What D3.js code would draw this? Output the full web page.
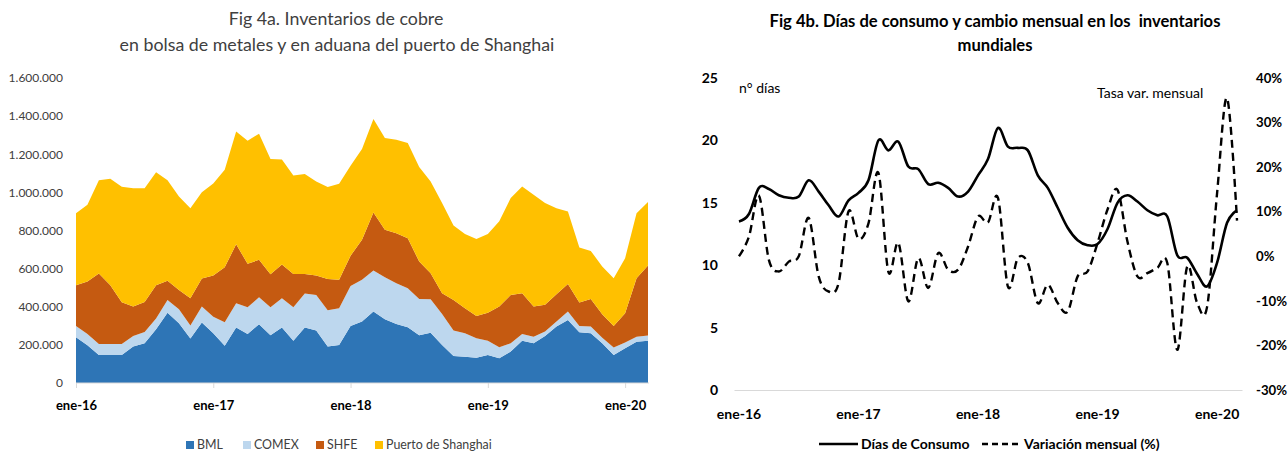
<!DOCTYPE html>
<html>
<head>
<meta charset="utf-8">
<script src="https://cdn.jsdelivr.net/npm/d3@7"></script>
<style>
body { margin: 0; background: #fff; }
svg { font-family: Lato, "Open Sans", sans-serif; display: block; }
</style>
</head>
<body>
<svg width="1288" height="455"></svg>
<script>
// Fig 4a: inventarios (miles de toneladas), ene-16 .. mar-20
var bml = [240,198,147,147,147,191,208,282,369,313,233,317,261,196,291,257,308,250,291,222,291,275,192,200,299,322,375,334,310,292,250,264,200,142,138,133,147,130,165,221,208,247,296,331,266,261,208,147,182,217,221];
var comex = [59,59,58,58,58,56,60,56,67,74,68,84,87,123,127,140,142,147,154,175,178,187,189,192,210,219,215,221,213,205,191,175,162,133,123,102,75,57,43,36,35,23,26,44,33,35,30,39,30,26,28];
var shfe = [214,275,369,308,219,154,157,175,101,101,144,147,216,288,310,228,196,174,176,175,103,102,165,149,158,210,305,249,263,263,196,137,109,161,131,117,147,214,254,214,158,140,144,145,123,145,123,113,154,307,367];
var puerto = [378,403,489,558,605,620,596,592,526,491,472,453,483,512,592,646,662,604,552,517,524,493,482,504,473,476,490,481,490,499,496,481,473,390,390,404,412,448,508,560,586,534,451,380,289,252,250,251,289,341,333];
var seriesNames = ["BML", "COMEX", "SHFE", "Puerto de Shanghai"];
var leftTicks = [0,200000,400000,600000,800000,1000000,1200000,1400000,1600000];

// Fig 4b
var dias = [13.5,14.1,16.2,16.1,15.6,15.4,15.5,16.8,15.9,14.8,13.9,15.2,15.8,16.8,20.0,19.2,19.9,17.9,17.7,16.5,16.6,16.2,15.5,15.9,17.2,18.5,21.0,19.5,19.4,19.2,17.2,16.2,14.6,13.0,12.0,11.6,11.7,12.9,15.0,15.6,15.1,14.4,14.0,13.9,10.8,10.6,9.3,8.3,10.2,13.4,14.4];
var variacion = [0,4.4,13.6,-0.8,-3.4,-1.2,0,8.6,-4.5,-7.9,-6.0,10.1,3.9,7.4,18.7,-3.5,3.0,-10.1,-0.4,-7.1,0.7,-3.0,-3.0,2.2,8.9,7.6,13.1,-6.8,-0.4,-1.5,-10.5,-6.4,-10.5,-12.4,-4.5,-3.4,3.0,10.5,14.9,3.3,-4.5,-3.8,-2.6,-1.5,-21.0,-2.3,-10.5,-11.3,14.2,35.5,8.0];
var diasTicks = [0,5,10,15,20,25];
var pctTicks = [-30,-20,-10,0,10,20,30,40];

var yearLabels = ["ene-16","ene-17","ene-18","ene-19","ene-20"];
var months = d3.timeMonth.range(new Date(2016,0,1), new Date(2020,3,1));
var januaries = months.filter(d => d.getMonth() == 0);

var colors = ["#2e75b6", "#bdd7ee", "#c55a11", "#ffc000"];
var svg = d3.select("svg");

var es = d3.formatLocale({decimal: ",", thousands: ".", grouping: [3], currency: ["", ""], minus: "-"});

// ---------------- left chart ----------------
var rows = months.map((m, i) => ({
	date: m,
	BML: bml[i]*1000,
	COMEX: comex[i]*1000,
	SHFE: shfe[i]*1000,
	"Puerto de Shanghai": puerto[i]*1000
}));
var stacked = d3.stack().keys(seriesNames)(rows);

var x1 = d3.scalePoint().domain(months).range([76, 648]);
var y1 = d3.scaleLinear().domain([0, 1600000]).range([383, 78]);

var gl = svg.append("g");

gl.selectAll("path.area")
	.data(stacked)
	.enter()
	.append("path")
	.classed("area", true)
	.attr("fill", (d, i) => colors[i])
	.attr("d", d3.area()
		.x(d => x1(d.data.date))
		.y0(d => y1(d[0]))
		.y1(d => y1(d[1])));

var yAxL = gl.append("g")
	.attr("transform", "translate(76,0)")
	.call(d3.axisLeft(y1).tickValues(leftTicks).tickSize(0).tickPadding(13).tickFormat(es.format(",")));
yAxL.select(".domain").remove();
yAxL.selectAll("text").attr("font-size", 12).attr("fill", "#404040").attr("font-family", "Lato");

var xAxL = gl.append("g")
	.attr("transform", "translate(0,383)")
	.call(d3.axisBottom(x1).tickValues(januaries).tickSize(5).tickPadding(13)
		.tickFormat((d, i) => yearLabels[i]));
xAxL.select(".domain").attr("stroke", "#d9d9d9").attr("d", "M76,0H649");
xAxL.selectAll("line").attr("stroke", "#d9d9d9");
xAxL.selectAll("text").attr("font-size", 13).attr("font-weight", "bold").attr("fill", "#000").attr("font-family", "Lato");

gl.append("text").attr("x", 336).attr("y", 25).attr("text-anchor", "middle")
	.attr("font-size", 17.8).attr("fill", "#404040").text("Fig 4a. Inventarios de cobre");
gl.append("text").attr("x", 337).attr("y", 51).attr("text-anchor", "middle")
	.attr("font-size", 17.8).attr("fill", "#404040").text("en bolsa de metales y en aduana del puerto de Shanghai");

var legX = [186, 243, 316, 375];
var leg = gl.selectAll("g.leg").data(seriesNames).enter().append("g").classed("leg", true)
	.attr("transform", (d, i) => "translate(" + legX[i] + ",445)");
leg.append("rect").attr("x", 0).attr("y", -4).attr("width", 8).attr("height", 8).attr("fill", (d, i) => colors[i]);
leg.append("text").attr("x", 11).attr("y", 0).attr("dy", "0.35em").attr("font-size", 12.4).attr("fill", "#404040").text(d => d);

// ---------------- right chart ----------------
var x2 = d3.scaleBand().domain(months).range([734, 1242]);
var yD = d3.scaleLinear().domain([0, 25]).range([390, 78]);
var yP = d3.scaleLinear().domain([-30, 40]).range([390, 78]);

var gr = svg.append("g");

var yAxD = gr.append("g").attr("transform", "translate(734,0)")
	.call(d3.axisLeft(yD).tickValues(diasTicks).tickSize(0).tickPadding(16));
yAxD.select(".domain").remove();

var yAxP = gr.append("g").attr("transform", "translate(1242,0)")
	.call(d3.axisRight(yP).tickValues(pctTicks).tickSize(0).tickPadding(14).tickFormat(d => d + "%"));
yAxP.select(".domain").remove();

var xAxR = gr.append("g").attr("transform", "translate(0,390)")
	.call(d3.axisBottom(x2).tickValues(januaries).tickSize(0).tickPadding(19)
		.tickFormat((d, i) => yearLabels[i]));
xAxR.select(".domain").attr("stroke", "#d9d9d9").attr("stroke-width", 1.2);

gr.selectAll(".tick text").attr("font-size", 14).attr("font-weight", "bold").attr("fill", "#000").attr("font-family", "Lato");
yAxP.selectAll("text").attr("font-size", 13.2);

var cx = (d, i) => x2(months[i]) + x2.bandwidth()/2;

gr.append("path")
	.datum(dias)
	.attr("fill", "none").attr("stroke", "#000").attr("stroke-width", 2.6)
	.attr("d", d3.line().x(cx).y(d => yD(d)).curve(d3.curveCatmullRom.alpha(0)));

gr.append("path")
	.datum(variacion)
	.attr("fill", "none").attr("stroke", "#000").attr("stroke-width", 2.4)
	.attr("stroke-dasharray", "8,5")
	.attr("d", d3.line().x(cx).y(d => yP(d)).curve(d3.curveCatmullRom.alpha(0)));

gr.append("text").attr("x", 739).attr("y", 93).attr("font-size", 14).text("n° días");
gr.append("text").attr("x", 1097).attr("y", 98).attr("font-size", 14).text("Tasa var. mensual");

gr.append("text").attr("x", 995).attr("y", 27).attr("text-anchor", "middle")
	.attr("font-size", 16.6).attr("font-weight", "bold")
	.text("Fig 4b. Días de consumo y cambio mensual en los\u00A0 inventarios");
gr.append("text").attr("x", 995).attr("y", 51).attr("text-anchor", "middle")
	.attr("font-size", 16.6).attr("font-weight", "bold").text("mundiales");

// legend right
gr.append("line").attr("x1", 819).attr("x2", 858).attr("y1", 444).attr("y2", 444)
	.attr("stroke", "#000").attr("stroke-width", 2.6);
gr.append("text").attr("x", 861).attr("y", 444).attr("dy", "0.35em").attr("font-size", 14).attr("font-weight", "bold")
	.text("Días de Consumo");
gr.append("line").attr("x1", 982).attr("x2", 1021).attr("y1", 444).attr("y2", 444)
	.attr("stroke", "#000").attr("stroke-width", 2.4).attr("stroke-dasharray", "6,4");
gr.append("text").attr("x", 1024).attr("y", 444).attr("dy", "0.35em").attr("font-size", 14).attr("font-weight", "bold")
	.text("Variación mensual (%)");
</script>
</body>
</html>
